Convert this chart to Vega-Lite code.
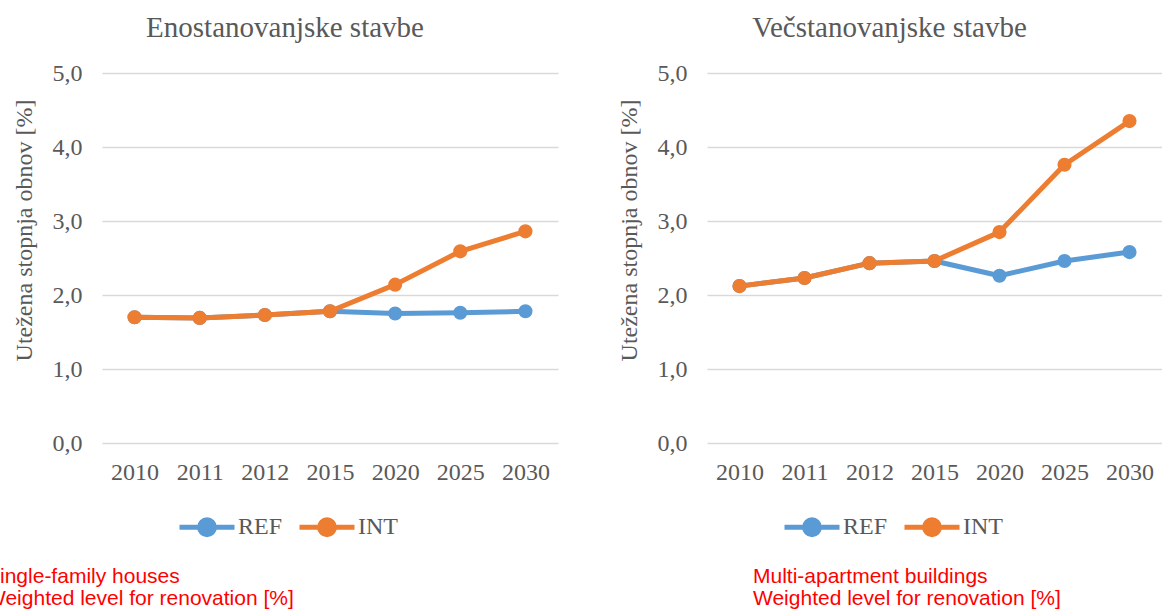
{
  "$schema": "https://vega.github.io/schema/vega-lite/v6.json",
  "background": "white",
  "padding": {"left": -14, "top": 14, "right": 0, "bottom": 0},
  "spacing": 59,
  "datasets": {
    "d": [
      {"panel": "L", "year": "2010", "series": "REF", "value": 1.70},
      {"panel": "L", "year": "2011", "series": "REF", "value": 1.69},
      {"panel": "L", "year": "2012", "series": "REF", "value": 1.73},
      {"panel": "L", "year": "2015", "series": "REF", "value": 1.78},
      {"panel": "L", "year": "2020", "series": "REF", "value": 1.75},
      {"panel": "L", "year": "2025", "series": "REF", "value": 1.76},
      {"panel": "L", "year": "2030", "series": "REF", "value": 1.78},
      {"panel": "L", "year": "2010", "series": "INT", "value": 1.70},
      {"panel": "L", "year": "2011", "series": "INT", "value": 1.69},
      {"panel": "L", "year": "2012", "series": "INT", "value": 1.73},
      {"panel": "L", "year": "2015", "series": "INT", "value": 1.78},
      {"panel": "L", "year": "2020", "series": "INT", "value": 2.14},
      {"panel": "L", "year": "2025", "series": "INT", "value": 2.59},
      {"panel": "L", "year": "2030", "series": "INT", "value": 2.86},
      {"panel": "R", "year": "2010", "series": "REF", "value": 2.12},
      {"panel": "R", "year": "2011", "series": "REF", "value": 2.23},
      {"panel": "R", "year": "2012", "series": "REF", "value": 2.43},
      {"panel": "R", "year": "2015", "series": "REF", "value": 2.46},
      {"panel": "R", "year": "2020", "series": "REF", "value": 2.26},
      {"panel": "R", "year": "2025", "series": "REF", "value": 2.46},
      {"panel": "R", "year": "2030", "series": "REF", "value": 2.58},
      {"panel": "R", "year": "2010", "series": "INT", "value": 2.12},
      {"panel": "R", "year": "2011", "series": "INT", "value": 2.23},
      {"panel": "R", "year": "2012", "series": "INT", "value": 2.43},
      {"panel": "R", "year": "2015", "series": "INT", "value": 2.46},
      {"panel": "R", "year": "2020", "series": "INT", "value": 2.85},
      {"panel": "R", "year": "2025", "series": "INT", "value": 3.76},
      {"panel": "R", "year": "2030", "series": "INT", "value": 4.35}
    ]
  },
  "hconcat": [
    {
      "title": {"text": ["Single-family houses", "Weighted level for renovation [%]"], "orient": "bottom", "anchor": "start", "dx": -26, "offset": 21, "color": "#FF0000", "font": "Liberation Sans", "fontSize": 21, "fontWeight": "normal", "lineHeight": 22},
      "vconcat": [
        {
          "title": {"text": "Enostanovanjske stavbe", "frame": "bounds"},
          "width": 456,
          "height": 370,
          "data": {"name": "d"},
          "transform": [{"filter": "datum.panel === 'L'"}],
          "encoding": {
            "x": {"field": "year", "type": "ordinal", "scale": {"type": "point", "padding": 0.5}, "axis": {"title": null, "labelAngle": 0, "grid": false, "labelPadding": 17}},
            "y": {"field": "value", "type": "quantitative", "scale": {"domain": [0, 5]}, "axis": {"title": "Utežena stopnja obnov [%]", "values": [0, 1, 2, 3, 4, 5], "labelExpr": "replace(format(datum.value, '.1f'), '.', ',')", "labelPadding": 20, "titlePadding": 16, "titleY": 157}},
            "color": {"field": "series", "type": "nominal", "scale": {"domain": ["REF", "INT"], "range": ["#5B9BD5", "#ED7D31"]}, "legend": {"title": null, "orient": "none", "direction": "horizontal", "legendX": 75, "legendY": 424}}
          },
          "layer": [
            {"transform": [{"filter": "datum.series === 'REF'"}], "mark": {"type": "line", "strokeWidth": 5, "strokeJoin": "round", "strokeCap": "round", "point": {"filled": true, "size": 200, "opacity": 1}}},
            {"transform": [{"filter": "datum.series === 'INT'"}], "mark": {"type": "line", "strokeWidth": 5, "strokeJoin": "round", "strokeCap": "round", "point": {"filled": true, "size": 200, "opacity": 1}}}
          ]
        }
      ]
    },
    {
      "title": {"text": ["Multi-apartment buildings", "Weighted level for renovation [%]"], "orient": "bottom", "anchor": "start", "dx": 136, "offset": 21, "color": "#FF0000", "font": "Liberation Sans", "fontSize": 21, "fontWeight": "normal", "lineHeight": 22},
      "vconcat": [
        {
          "title": {"text": "Večstanovanjske stavbe", "frame": "bounds"},
          "width": 455,
          "height": 370,
          "data": {"name": "d"},
          "transform": [{"filter": "datum.panel === 'R'"}],
          "encoding": {
            "x": {"field": "year", "type": "ordinal", "scale": {"type": "point", "padding": 0.5}, "axis": {"title": null, "labelAngle": 0, "grid": false, "labelPadding": 17}},
            "y": {"field": "value", "type": "quantitative", "scale": {"domain": [0, 5]}, "axis": {"title": "Utežena stopnja obnov [%]", "values": [0, 1, 2, 3, 4, 5], "labelExpr": "replace(format(datum.value, '.1f'), '.', ',')", "labelPadding": 20, "titlePadding": 16, "titleY": 157}},
            "color": {"field": "series", "type": "nominal", "scale": {"domain": ["REF", "INT"], "range": ["#5B9BD5", "#ED7D31"]}, "legend": {"title": null, "orient": "none", "direction": "horizontal", "legendX": 75, "legendY": 424}}
          },
          "layer": [
            {"transform": [{"filter": "datum.series === 'REF'"}], "mark": {"type": "line", "strokeWidth": 5, "strokeJoin": "round", "strokeCap": "round", "point": {"filled": true, "size": 200, "opacity": 1}}},
            {"transform": [{"filter": "datum.series === 'INT'"}], "mark": {"type": "line", "strokeWidth": 5, "strokeJoin": "round", "strokeCap": "round", "point": {"filled": true, "size": 200, "opacity": 1}}}
          ]
        }
      ]
    }
  ],
  "resolve": {"scale": {"color": "independent"}},
  "config": {
    "view": {"stroke": null},
    "axis": {"labelFont": "Liberation Serif", "labelFontSize": 24, "labelColor": "#595959", "titleFont": "Liberation Serif", "titleFontSize": 24, "titleColor": "#595959", "titleFontWeight": "normal", "ticks": false, "domain": false, "gridColor": "#D9D9D9", "gridWidth": 1.5},
    "legend": {"labelFont": "Liberation Serif", "labelFontSize": 24, "labelColor": "#595959", "symbolType": "M -1 0 L 1 0 M 0.27 0 A 0.27 0.27 0 1 1 -0.27 0 A 0.27 0.27 0 1 1 0.27 0 Z", "symbolSize": 3025, "symbolStrokeWidth": 5, "labelOffset": 1, "columnPadding": 6, "symbolOpacity": 1},
    "title": {"font": "Liberation Serif", "fontSize": 29, "fontWeight": "normal", "color": "#595959", "offset": 18}
  }
}
